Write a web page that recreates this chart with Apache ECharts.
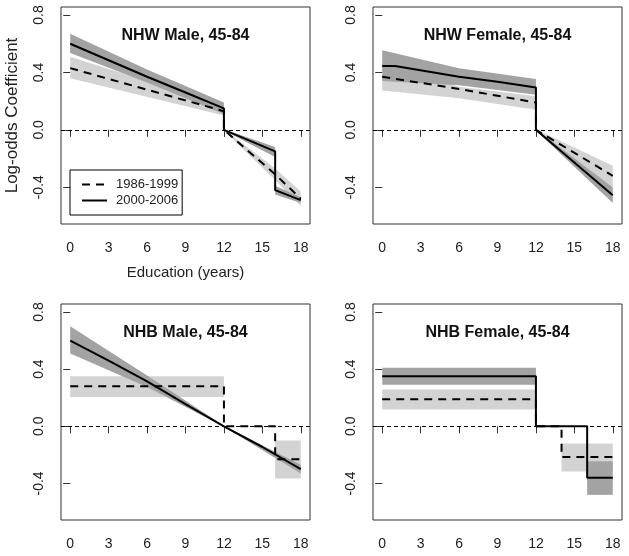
<!DOCTYPE html>
<html>
<head>
<meta charset="utf-8">
<script src="https://cdn.jsdelivr.net/npm/echarts@6/dist/echarts.min.js"></script>
<style>
html,body{margin:0;padding:0;background:#fff;}
#chart{width:629px;height:556px;}
</style>
</head>
<body>
<div id="chart"></div>
<script>
// ---------- data ----------
const xTicks = [0, 3, 6, 9, 12, 15, 18];
const yTicks = [-0.4, 0.0, 0.4, 0.8];
const panelTitles = ['NHW Male, 45-84', 'NHW Female, 45-84', 'NHB Male, 45-84', 'NHB Female, 45-84'];
const periodNames = ['1986-1999', '2000-2006'];

// NHW Male
const nhwMaleLine8699 = [[0, 0.43], [12, 0.13], [12, 0], [16, -0.31], [18, -0.48]];
const nhwMaleLine0006 = [[0, 0.60], [3, 0.485], [6, 0.37], [9, 0.26], [12, 0.15], [12, 0], [16, -0.15], [16, -0.42], [18, -0.49]];
const nhwMaleBand8699 = [
  [[0, 0.36, 0.51], [12, 0.10, 0.17]],
  [[12, -0.004, 0.004], [16, -0.35, -0.27], [18, -0.53, -0.43]]
];
const nhwMaleBand0006 = [
  [[0, 0.535, 0.67], [6, 0.33, 0.42], [12, 0.11, 0.19]],
  [[12, -0.004, 0.004], [16, -0.19, -0.12]],
  [[16, -0.45, -0.39], [18, -0.51, -0.47]]
];

// NHW Female
const nhwFemaleLine8699 = [[0, 0.37], [6, 0.285], [12, 0.19], [12, 0], [18, -0.32]];
const nhwFemaleLine0006 = [[0, 0.445], [1, 0.445], [6, 0.37], [9, 0.335], [12, 0.295], [12, 0], [18, -0.455]];
const nhwFemaleBand8699 = [
  [[0, 0.275, 0.46], [6, 0.22, 0.30], [12, 0.14, 0.235]],
  [[12, -0.004, 0.004], [18, -0.40, -0.25]]
];
const nhwFemaleBand0006 = [
  [[0, 0.34, 0.555], [6, 0.31, 0.43], [12, 0.245, 0.355]],
  [[12, -0.004, 0.004], [18, -0.51, -0.40]]
];

// NHB Male
const nhbMaleLine8699 = [[0, 0.28], [12, 0.28], [12, 0], [16, 0], [16, -0.23], [18, -0.23]];
const nhbMaleLine0006 = [[0, 0.60], [3, 0.46], [6, 0.315], [9, 0.155], [12, 0], [15, -0.145], [18, -0.30]];
const nhbMaleBand8699 = [
  [[0, 0.205, 0.35], [12, 0.205, 0.35]],
  [[16, -0.365, -0.10], [18, -0.365, -0.10]]
];
const nhbMaleBand0006 = [
  [[0, 0.51, 0.70], [6, 0.275, 0.355], [12, -0.004, 0.004], [18, -0.33, -0.27]]
];

// NHB Female
const nhbFemaleLine8699 = [[0, 0.19], [12, 0.19], [12, 0], [14, 0], [14, -0.215], [18, -0.215]];
const nhbFemaleLine0006 = [[0, 0.35], [12, 0.35], [12, 0], [16, 0], [16, -0.36], [18, -0.36]];
const nhbFemaleBand8699 = [
  [[0, 0.117, 0.257], [12, 0.117, 0.257]],
  [[14, -0.316, -0.12], [18, -0.316, -0.12]]
];
const nhbFemaleBand0006 = [
  [[0, 0.29, 0.41], [12, 0.29, 0.41]],
  [[16, -0.48, -0.245], [18, -0.48, -0.245]]
];

const panels = [
  {l8699: nhwMaleLine8699, l0006: nhwMaleLine0006, b8699: nhwMaleBand8699, b0006: nhwMaleBand0006},
  {l8699: nhwFemaleLine8699, l0006: nhwFemaleLine0006, b8699: nhwFemaleBand8699, b0006: nhwFemaleBand0006},
  {l8699: nhbMaleLine8699, l0006: nhbMaleLine0006, b8699: nhbMaleBand8699, b0006: nhbMaleBand0006},
  {l8699: nhbFemaleLine8699, l0006: nhbFemaleLine0006, b8699: nhbFemaleBand8699, b0006: nhbFemaleBand0006}
];

// ---------- layout / style ----------
const SANS = "'Liberation Sans', Arial, sans-serif";
const LIGHT = '#d3d3d3';
const DARK = '#a3a3a3';
const gridBoxes = [
  {left: 61, top: 7, width: 249, height: 217},
  {left: 373, top: 7, width: 249, height: 217},
  {left: 61, top: 304, width: 249, height: 216},
  {left: 373, top: 304, width: 249, height: 216}
];

function bandSeries(idx, segs, color, name) {
  return {
    type: 'custom', name: name + ' band', xAxisIndex: idx, yAxisIndex: idx,
    silent: true, animation: false, z: color === DARK ? 3 : 2,
    data: segs.map((s, i) => [i]),
    renderItem: function (params, api) {
      const seg = segs[params.dataIndex];
      const upper = seg.map(p => api.coord([p[0], p[2]]));
      const lower = seg.slice().reverse().map(p => api.coord([p[0], p[1]]));
      return {type: 'polygon', shape: {points: upper.concat(lower)}, style: {fill: color, stroke: null}};
    }
  };
}

const grid = gridBoxes.map(g => Object.assign({show: true, borderColor: '#333', borderWidth: 1, backgroundColor: 'transparent'}, g));
const xAxis = gridBoxes.map((g, i) => ({
  type: 'value', gridIndex: i, min: -0.72, max: 18.72,
  axisLine: {show: false}, splitLine: {show: false},
  axisTick: {show: true, length: 7, customValues: xTicks, lineStyle: {color: '#333'}},
  axisLabel: {customValues: xTicks, margin: 17, color: '#222', fontFamily: SANS, fontSize: 14},
  name: i === 0 ? 'Education (years)' : '', nameLocation: 'middle', nameGap: 41,
  nameTextStyle: {fontFamily: SANS, fontSize: 15, color: '#222'}
}));
const yAxis = gridBoxes.map((g, i) => ({
  type: 'value', gridIndex: i, min: -0.656, max: 0.856,
  axisLine: {show: false}, splitLine: {show: false},
  axisTick: {show: true, length: 7, customValues: yTicks, lineStyle: {color: '#333'}},
  axisLabel: {customValues: yTicks, margin: 15, rotate: 90, color: '#222', fontFamily: SANS, fontSize: 14,
    formatter: v => (Math.abs(v) < 1e-9 ? 0 : v).toFixed(1)},
  name: i === 0 ? 'Log-odds Coefficient' : '', nameLocation: 'middle', nameGap: 40,
  nameTextStyle: {fontFamily: SANS, fontSize: 17, color: '#222'}
}));

const series = [];
panels.forEach((p, i) => {
  series.push(bandSeries(i, p.b8699, LIGHT, periodNames[0]));
  series.push(bandSeries(i, p.b0006, DARK, periodNames[1]));
  series.push({
    type: 'line', name: periodNames[0], xAxisIndex: i, yAxisIndex: i, data: p.l8699,
    symbol: 'none', animation: false, z: 5,
    lineStyle: {color: '#000', width: 2, type: [8, 6]}, itemStyle: {color: '#000'},
    markLine: {silent: true, symbol: 'none', label: {show: false}, animation: false,
      lineStyle: {color: '#000', width: 1, type: [4, 3]}, data: [{yAxis: 0}]}
  });
  series.push({
    type: 'line', name: periodNames[1], xAxisIndex: i, yAxisIndex: i, data: p.l0006,
    symbol: 'none', animation: false, z: 6,
    lineStyle: {color: '#000', width: 2, type: 'solid'}, itemStyle: {color: '#000'}
  });
});

const title = panelTitles.map((t, i) => ({
  text: t, left: gridBoxes[i].left + gridBoxes[i].width / 2, top: gridBoxes[i].top + 21,
  textAlign: 'center', padding: 0,
  textStyle: {fontFamily: SANS, fontSize: 16, fontWeight: 'bold', color: '#111'}
}));

const chart = echarts.init(document.getElementById('chart'), null, {renderer: 'canvas'});
chart.setOption({
  animation: false,
  backgroundColor: '#fff',
  title: title,
  legend: {
    data: periodNames,
    left: 70, top: 170, orient: 'vertical', selectedMode: false,
    borderColor: '#000', borderWidth: 1, borderRadius: 0, padding: [8, 4, 8, 11],
    itemGap: 3, itemWidth: 25, itemHeight: 14,
    itemStyle: {color: 'rgba(0,0,0,0)', borderColor: 'rgba(0,0,0,0)', borderWidth: 0},
    textStyle: {fontFamily: SANS, fontSize: 13, color: '#222', padding: [0, 0, 0, 4]}
  },
  grid: grid, xAxis: xAxis, yAxis: yAxis, series: series
});
</script>
</body>
</html>
